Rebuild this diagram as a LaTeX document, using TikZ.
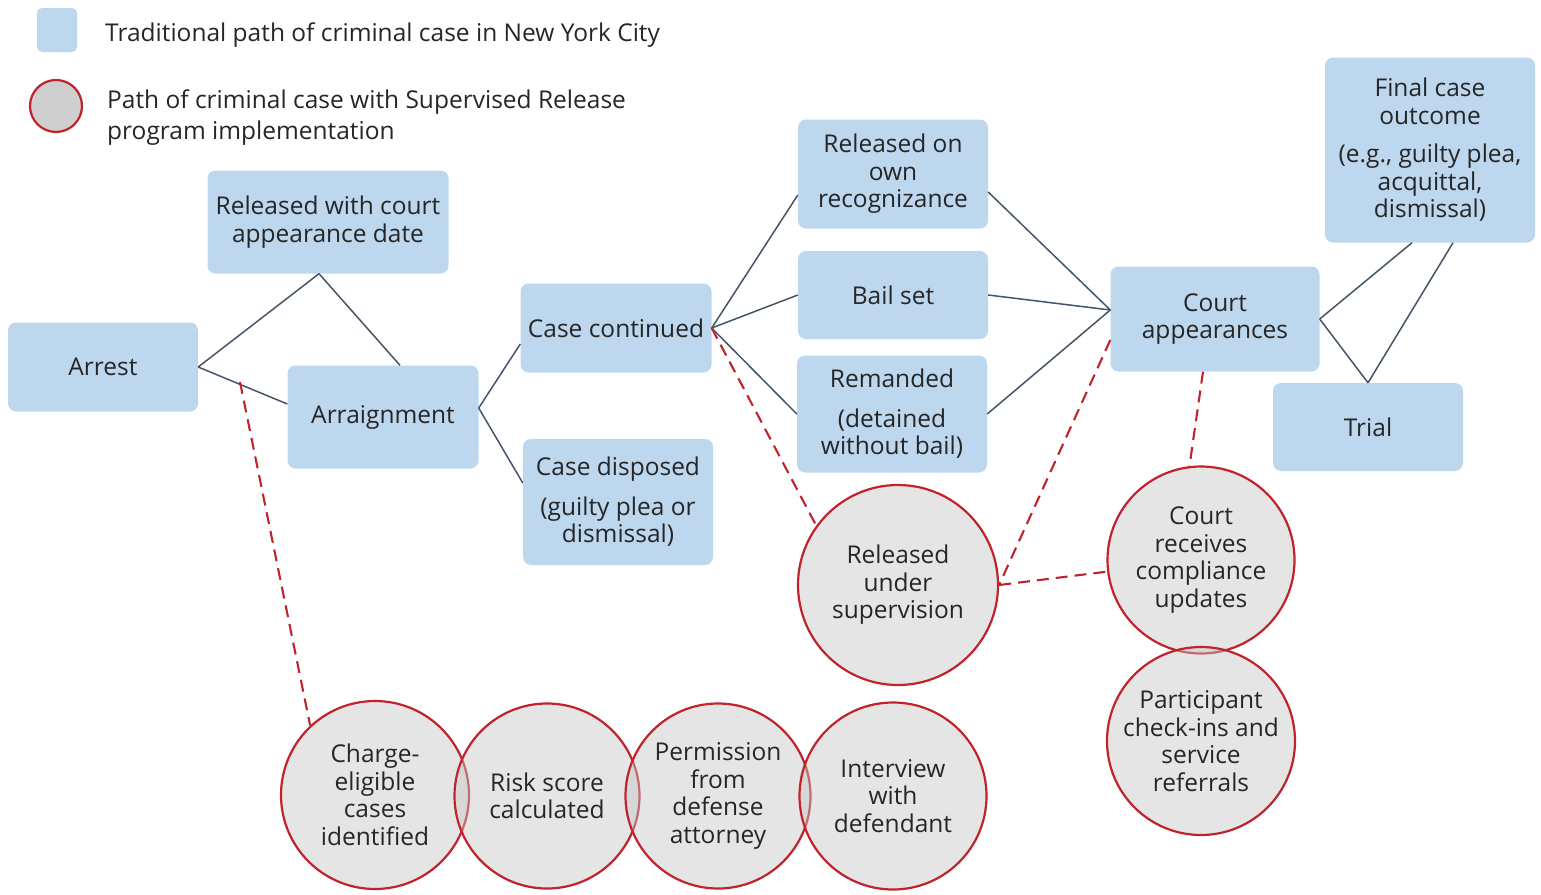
\documentclass[tikz,border=0pt]{standalone}
\usepackage{fontspec}
\setmainfont{Open Sans}
\usetikzlibrary{positioning}
\definecolor{boxblue}{HTML}{BDD7EE}
\definecolor{linkgray}{HTML}{44546A}
\definecolor{srred}{HTML}{C0232C}
\definecolor{txtgray}{HTML}{262626}
\definecolor{keygray}{HTML}{D0CFD0}

\begin{document}
\begin{tikzpicture}[x=1pt,y=-1pt]
	\tikzset{
		trad/.style={fill=boxblue, rounded corners=8pt, text=txtgray, align=center, inner sep=2pt, font=\fontsize{24.5}{27.5}\selectfont},
		super/.style={circle, draw=srred, line width=2.2pt, fill=gray!45, fill opacity=0.45, text opacity=1, text=txtgray, align=center, inner sep=0pt, font=\fontsize{24.5}{27.5}\selectfont},
		keytext/.style={text=txtgray, align=left, inner sep=0pt, font=\fontsize{24.5}{31}\selectfont},
		link/.style={draw=linkgray, line width=1.5pt},
		srlink/.style={draw=srred, line width=2.1pt, dash pattern=on 12pt off 7pt}
	}
	\useasboundingbox (0,0) rectangle (1541,894);
	% legend
	\node[trad, minimum width=40, minimum height=44, rounded corners=5pt] (keybox) at (57,30) {};
	\node[keytext, anchor=west] (keyboxtext) at (105,35) {Traditional path of criminal case in New York City};
	\node[circle, draw=srred, fill=keygray, line width=2.2pt, minimum size=52] (keycirc) at (56,106) {};
	\node[keytext, anchor=west] (keycirctext) at (107,118) {Path of criminal case with Supervised Release\\program implementation};
	% traditional path
	\node[trad, minimum width=190, minimum height=89] (arrest) at (103,367) {Arrest};
	\node[trad, minimum width=241, minimum height=103] (rwc) at (328,222) {Released with court\\appearance date};
	\node[trad, minimum width=191, minimum height=103] (arraign) at (383,417) {Arraignment};
	\node[trad, minimum width=191, minimum height=89] (cc) at (616,328) {Case continued};
	\node[trad, minimum width=190, minimum height=126] (cd) at (618,502) {Case disposed\\[12pt](guilty plea or\\dismissal)};
	\node[trad, minimum width=190, minimum height=109] (ror) at (893,174) {Released on\\own\\recognizance};
	\node[trad, minimum width=190, minimum height=88] (bail) at (893,295) {Bail set};
	\node[trad, minimum width=190, minimum height=117] (remand) at (892,414) {Remanded\\[12pt](detained\\without bail)};
	\node[trad, minimum width=209, minimum height=105] (court) at (1215,319) {Court\\appearances};
	\node[trad, minimum width=210, minimum height=185] (final) at (1430,150) {Final case\\outcome\\[11pt](e.g., guilty plea,\\acquittal,\\dismissal)};
	\node[trad, minimum width=190, minimum height=88] (trial) at (1368,427) {Trial};
	% supervised release path
	\node[super, minimum size=200] (rus) at (898,585) {Released\\under\\supervision};
	\node[super, minimum size=187] (crc) at (1201,560) {Court\\receives\\compliance\\updates};
	\node[super, minimum size=188] (pci) at (1201,741) {Participant\\check-ins and\\service\\referrals};
	\node[super, minimum size=188] (charge) at (375,795) {Charge-\\eligible\\cases\\identified};
	\node[super, minimum size=185] (risk) at (547,796) {Risk score\\calculated};
	\node[super, minimum size=185] (permit) at (718,796) {Permission\\from\\defense\\attorney};
	\node[super, minimum size=187] (interview) at (893,796) {Interview\\with\\defendant};
	\coordinate (arrestlink) at (240,382);
	\path[link]
		(arrest.east) edge ([xshift=-9pt]rwc.south)
		([xshift=-9pt]rwc.south) edge ([xshift=17pt]arraign.north)
		(arrest.east) edge ([yshift=13pt]arraign.west)
		([yshift=9pt]arraign.east) edge ([yshift=-16pt]cc.west)
		([yshift=9pt]arraign.east) edge ([yshift=19pt]cd.west)
		(cc.east) edge ([yshift=-21pt]ror.west)
		(cc.east) edge (bail.west)
		(cc.east) edge (remand.west)
		([yshift=-18pt]ror.east) edge ([yshift=9pt]court.west)
		(bail.east) edge ([yshift=9pt]court.west)
		(remand.east) edge ([yshift=9pt]court.west)
		(court.east) edge ([xshift=-18pt]final.south)
		(court.east) edge (trial.north)
		([xshift=23pt]final.south) edge (trial.north);
	\path[srlink]
		(arrestlink) edge (charge.133)
		(cc.east) edge (rus.144)
		([yshift=-21pt]court.west) edge (rus.east)
		(rus.east) edge (crc)
		([xshift=-12pt]court.south) edge (crc.97);
\end{tikzpicture}
\end{document}
